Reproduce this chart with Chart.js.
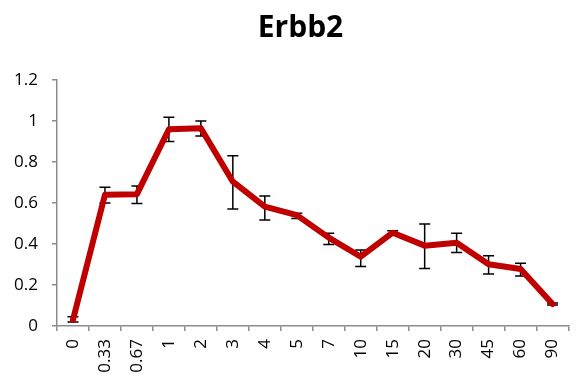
<!DOCTYPE html>
<html>
<head>
<meta charset="utf-8">
<script src="https://cdn.jsdelivr.net/npm/chart.js@4/dist/chart.umd.min.js"></script>
<style>
  html, body { margin: 0; padding: 0; background: #fff; }
  #wrap { width: 581px; height: 379px; }
</style>
</head>
<body>
<div id="wrap"><canvas id="c" width="581" height="379"></canvas></div>
<script>
const titleText = 'Erbb2';
const categories = ['0','0.33','0.67','1','2','3','4','5','7','10','15','20','30','45','60','90'];
const values = [0.03,0.64,0.643,0.96,0.965,0.704,0.582,0.541,0.431,0.338,0.455,0.392,0.406,0.301,0.278,0.107];
const upperValues = [0.045,0.677,0.683,1.018,1.0,0.831,0.634,0.55,0.452,0.371,0.465,0.498,0.452,0.343,0.306,0.112];
const lowerValues = [0.02,0.60,0.598,0.90,0.927,0.571,0.517,0.524,0.398,0.29,0.445,0.28,0.358,0.254,0.244,0.102];
const yTicks = [0, 0.2, 0.4, 0.6, 0.8, 1, 1.2];

const FONT = '"Open Sans", "Liberation Sans", sans-serif';
const AXIS = '#8c8c8c';

const errorBars = {
  id: 'errorBars',
  beforeDatasetsDraw(chart) {
    const ctx = chart.ctx;
    const xs = chart.scales.x, ys = chart.scales.y;
    ctx.save();
    ctx.strokeStyle = '#000';
    ctx.lineWidth = 1.5;
    for (let i = 0; i < categories.length; i++) {
      const x = xs.getPixelForValue(i);
      const yt = ys.getPixelForValue(upperValues[i]);
      const yb = ys.getPixelForValue(lowerValues[i]);
      ctx.beginPath();
      ctx.moveTo(x, yt); ctx.lineTo(x, yb);
      ctx.moveTo(x - 5.5, yt); ctx.lineTo(x + 5.5, yt);
      ctx.moveTo(x - 5.5, yb); ctx.lineTo(x + 5.5, yb);
      ctx.stroke();
    }
    ctx.restore();
  }
};

const titleShift = {
  id: 'titleShift',
  afterLayout(chart) {
    const t = chart.titleBlock;
    if (t) { t.left += 11; t.right += 11; }
  }
};

new Chart(document.getElementById('c'), {
  type: 'line',
  data: {
    labels: categories,
    datasets: [{
      data: values,
      borderColor: '#C00000',
      backgroundColor: '#C00000',
      borderWidth: 6,
      pointRadius: 0,
      tension: 0,
      borderJoinStyle: 'round',
      borderCapStyle: 'round'
    }]
  },
  options: {
    responsive: false,
    animation: false,
    devicePixelRatio: 1,
    layout: { padding: { left: 0, right: 2, top: 0, bottom: 0 } },
    plugins: {
      legend: { display: false },
      tooltip: { enabled: false },
      title: {
        display: true,
        text: titleText,
        color: '#000',
        font: { family: FONT, size: 30, weight: 'bold', lineHeight: 1.2 },
        padding: { top: 10, bottom: 34 }
      }
    },
    scales: {
      x: {
        offset: true,
        grid: { offset: true, drawOnChartArea: false, tickLength: 5, color: AXIS, lineWidth: 1.5 },
        border: { color: AXIS, width: 1.5 },
        ticks: { color: '#000', font: { family: FONT, size: 17 }, minRotation: 90, maxRotation: 90, padding: 8, autoSkip: false },
        afterFit(s) { s.height = 53; }
      },
      y: {
        min: 0, max: 1.2,
        afterBuildTicks(s) { s.ticks = yTicks.map(v => ({ value: v })); },
        grid: { drawOnChartArea: false, tickLength: 5, color: AXIS, lineWidth: 1.5 },
        border: { color: AXIS, width: 1.5 },
        ticks: { color: '#000', font: { family: FONT, size: 17 }, padding: 14,
                 callback: (v) => String(+v.toFixed(1)) },
        afterFit(s) { s.width = 57; }
      }
    }
  },
  plugins: [errorBars, titleShift]
});
</script>
</body>
</html>
